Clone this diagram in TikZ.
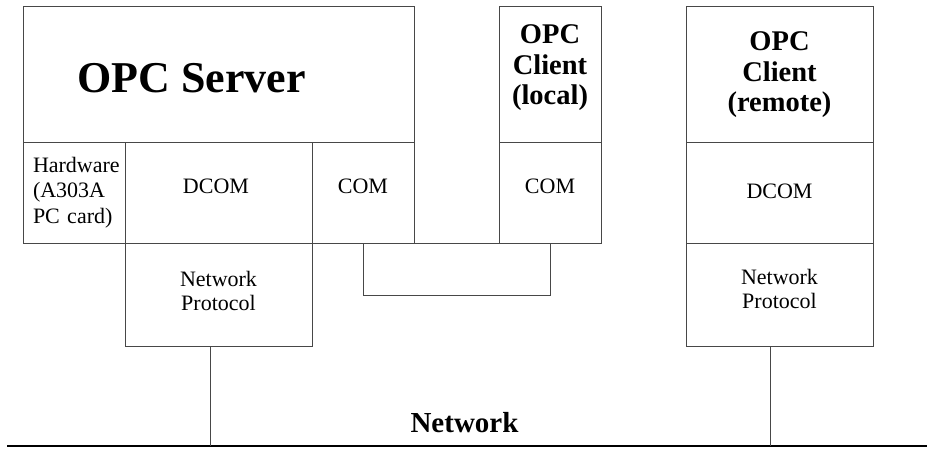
\documentclass[tikz,border=0pt]{standalone}
\usepackage{fontspec}
\setmainfont{Liberation Serif}
\begin{document}
\begin{tikzpicture}[x=1pt,y=-1pt,
  layer/.style={draw=black!72, line width=0.9pt, inner sep=0pt, outer sep=0pt},
  txt/.style={inner sep=0pt, align=center, font=\fontsize{22}{24}\selectfont},
  clienttxt/.style={inner sep=0pt, align=center, font=\fontsize{28.5}{30.5}\selectfont\bfseries},
  wire/.style={draw=black!72, line width=0.9pt},
  bus/.style={draw=black, line width=2.4pt}]
\useasboundingbox (0,0) rectangle (927,448);

% OPC server stack
\node[layer, minimum width=391, minimum height=136] (srv) at (218.5,74) {};
\node[inner sep=0pt, anchor=base, font=\fontsize{44}{48}\selectfont\bfseries] (srvlbl) at (191.5,92) {OPC Server};
\node[layer, minimum width=102, minimum height=101, text width=82, inner xsep=10pt, align=left,
      font=\fontsize{22}{25.5}\selectfont] (hw) at (74,192.5) {Hardware\\(A303A\\PC card)};
\node[layer, minimum width=187, minimum height=101] (dcomS) at (218.5,192.5) {};
\node[txt] (dcomSlbl) at (216,186) {DCOM};
\node[layer, minimum width=102, minimum height=101] (comS) at (363,192.5) {};
\node[txt] (comSlbl) at (363,186) {COM};
\node[layer, minimum width=187, minimum height=103] (npS) at (218.5,294.5) {};
\node[txt] (npSlbl) at (218.5,291) {Network\\Protocol};

% local OPC client
\node[layer, minimum width=102, minimum height=136] (cliL) at (550,74) {};
\node[clienttxt] (cliLlbl) at (550,68) {OPC\\Client\\(local)};
\node[layer, minimum width=102, minimum height=101] (comL) at (550,192.5) {};
\node[txt] (comLlbl) at (550,186) {COM};

% local COM link
\node[layer, minimum width=187, minimum height=52] (link) at (456.5,269) {};
\draw[wire] (comS.south east) -- (comL.south west);

% remote OPC client
\node[layer, minimum width=187, minimum height=136] (cliR) at (779.5,74) {};
\node[clienttxt] (cliRlbl) at (779.5,75) {OPC\\Client\\(remote)};
\node[layer, minimum width=187, minimum height=101] (dcomR) at (779.5,192.5) {};
\node[txt] (dcomRlbl) at (779.5,191) {DCOM};
\node[layer, minimum width=187, minimum height=103] (npR) at (779.5,294.5) {};
\node[txt] (npRlbl) at (779.5,289) {Network\\Protocol};

% network bus
\coordinate (busL) at (7,446);
\coordinate (busR) at (927,446);
\draw[bus] (busL) -- (busR);
\node[inner sep=0pt, anchor=base, font=\fontsize{29}{32}\selectfont\bfseries] (netlbl) at (464.5,432) {Network};
\draw[wire] ([xshift=-8.5pt]npS.south) -- ([xshift=-8.5pt]npS.south |- busL);
\draw[wire] ([xshift=-9.5pt]npR.south) -- ([xshift=-9.5pt]npR.south |- busL);
\end{tikzpicture}
\end{document}
